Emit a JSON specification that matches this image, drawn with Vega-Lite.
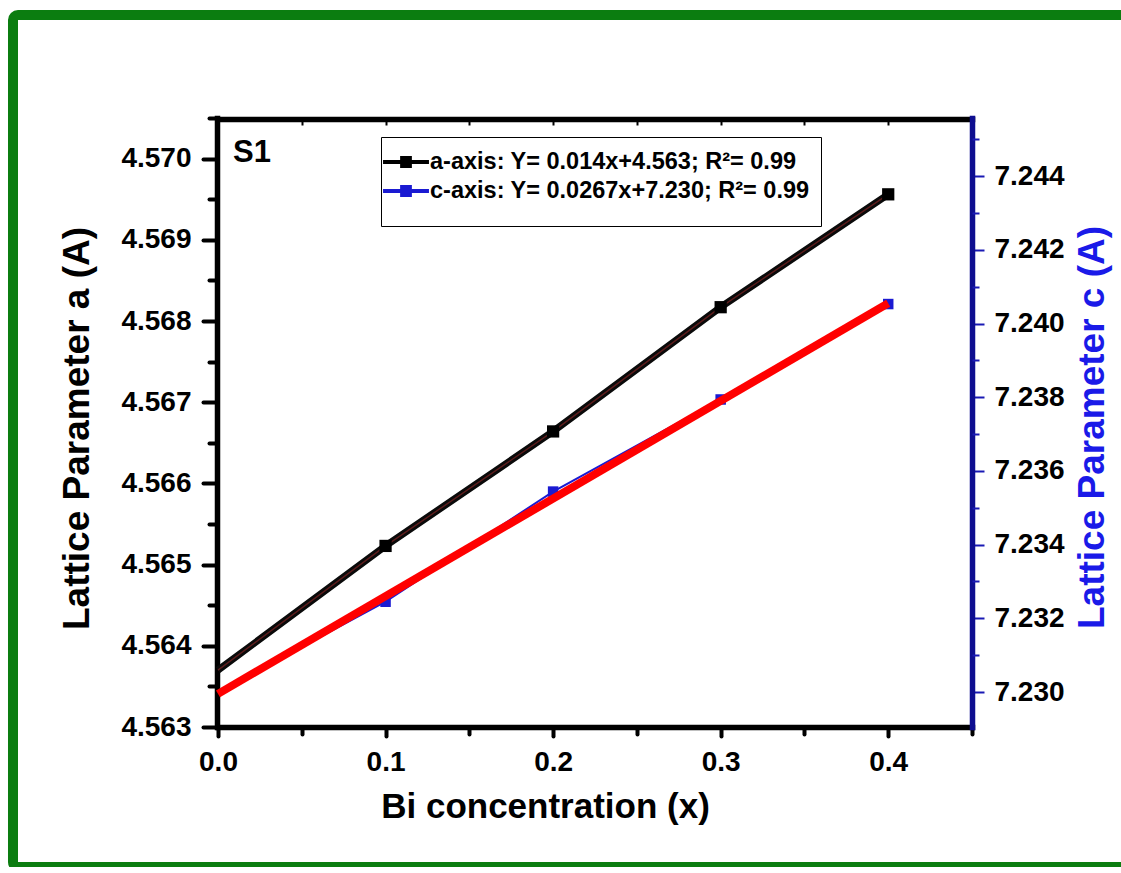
{
"$schema": "https://vega.github.io/schema/vega-lite/v6.json",
"width": 1115,
"height": 852,
"autosize": "none",
"padding": {"left": 13, "top": 15, "right": 0, "bottom": 0},
"background": "white",
"config": {
  "font": "Liberation Sans",
  "view": {"stroke": "#0b7d10", "strokeWidth": 10, "fill": "white", "cornerRadius": 5},
  "axis": {"grid": false, "labelOverlap": false, "labelFlush": false, "zindex": 1, "domainCap": "square", "labelFont": "Liberation Sans", "titleFont": "Liberation Sans", "labelFontWeight": "bold", "titleFontWeight": "bold", "labelColor": "black", "titleColor": "black", "labelFontSize": 28, "titleFontSize": 37, "domainWidth": 5.5, "domainColor": "black", "tickColor": "black"}
},
"datasets": {
  "a": [
    {"x": 0, "a": 4.56370, "series": "a"},
    {"x": 0.1, "a": 4.56523, "series": "a"},
    {"x": 0.2, "a": 4.56664, "series": "a"},
    {"x": 0.3, "a": 4.56817, "series": "a"},
    {"x": 0.4, "a": 4.56956, "series": "a"}
  ],
  "c": [
    {"x": 0, "c": 7.23000, "series": "c"},
    {"x": 0.1, "c": 7.23245, "series": "c"},
    {"x": 0.2, "c": 7.23544, "series": "c"},
    {"x": 0.3, "c": 7.23794, "series": "c"},
    {"x": 0.4, "c": 7.24053, "series": "c"}
  ],
  "cfit": [
    {"x": 0, "c": 7.22995},
    {"x": 0.4, "c": 7.24055}
  ],
  "s1": [
    {"x": 0.009, "a": 4.56996, "label": "S1"}
  ]
},
"layer": [
  {
    "encoding": {
      "x": {"field": "x", "type": "quantitative",
        "scale": {"domain": [0, 0.45], "range": [205, 959], "nice": false, "zero": false},
        "axis": {"orient": "bottom", "offset": -140, "values": [0, 0.1, 0.2, 0.3, 0.4], "format": ".1f",
          "title": "Bi concentration (x)", "titleFontSize": 35, "titleX": 532, "tickSize": 9, "tickWidth": 4, "tickCap": "round", "labelPadding": 12, "titlePadding": 13}},
      "y": {"field": "a", "type": "quantitative",
        "scale": {"domain": [4.563, 4.5705], "range": [712, 103], "nice": false, "zero": false},
        "axis": {"orient": "left", "offset": -204,
          "values": [4.563, 4.564, 4.565, 4.566, 4.567, 4.568, 4.569, 4.57], "format": ".3f",
          "title": "Lattice Parameter a (A)", "titleY": 413, "tickSize": 14, "tickWidth": 4, "tickCap": "round", "labelPadding": 12, "titlePadding": 24}}
    },
    "layer": [
      {"data": {"name": "a"}, "mark": {"type": "line", "color": "#0a0a0a", "strokeWidth": 7}, "encoding": {}},
      {"data": {"name": "a"}, "mark": {"type": "line", "color": "#5c1c1c", "strokeWidth": 1.4}, "encoding": {}},
      {"data": {"name": "a"}, "transform": [{"filter": "datum.x > 0"}],
        "mark": {"type": "point", "shape": "square", "filled": true, "size": 150, "opacity": 1},
        "encoding": {"color": {"field": "series", "type": "nominal",
          "scale": {"domain": ["a", "c"], "range": ["#000000", "#1a1ad2"]},
          "legend": {"orient": "none", "legendX": 368, "legendY": 122, "title": " ", "titleOrient": "bottom", "titleFontSize": 8, "titlePadding": 4,
            "symbolType": "M-1.64,-0.14H1.64V0.14H-1.64Z M-0.42,-0.42H0.42V0.42H-0.42Z",
            "symbolSize": 784, "symbolStrokeWidth": 0,
            "labelFontSize": 23.5, "labelFontWeight": "bold", "labelColor": "black", "labelFont": "Liberation Sans",
            "labelExpr": "datum.label == 'a' ? 'a-axis: Y= 0.014x+4.563; R²= 0.99' : 'c-axis: Y= 0.0267x+7.230; R²= 0.99'",
            "strokeColor": "black", "fillColor": "white", "padding": 11, "rowPadding": 3, "labelOffset": 10, "labelLimit": 600}}}},
      {"data": {"name": "s1"}, "mark": {"type": "text", "align": "left", "baseline": "alphabetic", "fontSize": 31, "fontWeight": "bold", "color": "black", "font": "Liberation Sans"},
        "encoding": {"text": {"field": "label"}}}
    ]
  },
  {
    "data": {"name": "a"},
    "mark": {"type": "point", "opacity": 0},
    "encoding": {
      "x": {"field": "x", "type": "quantitative",
        "scale": {"domain": [0, 0.45], "range": [205, 959], "nice": false, "zero": false},
        "axis": {"orient": "bottom", "offset": -140, "values": [0.05, 0.15, 0.25, 0.35, 0.45],
          "labels": false, "domain": false, "title": null, "tickSize": 7, "tickWidth": 4, "tickCap": "round"}},
      "y": {"field": "a", "type": "quantitative",
        "scale": {"domain": [4.563, 4.5705], "range": [712, 103], "nice": false, "zero": false},
        "axis": {"orient": "left", "offset": -204,
          "values": [4.5635, 4.5645, 4.5655, 4.5665, 4.5675, 4.5685, 4.5695, 4.5705],
          "labels": false, "domain": false, "title": null, "tickSize": 8, "tickWidth": 4, "tickCap": "round"}}
    }
  },
  {
    "encoding": {
      "x": {"field": "x", "type": "quantitative",
        "scale": {"domain": [0, 0.45], "range": [205, 959], "nice": false, "zero": false},
        "axis": {"orient": "top", "offset": -104, "values": [0, 0.05, 0.1, 0.15, 0.2, 0.25, 0.3, 0.35, 0.4, 0.45],
          "labels": false, "title": null, "tickSize": -6, "tickWidth": 2}},
      "y": {"field": "c", "type": "quantitative",
        "scale": {"domain": [7.22905, 7.24558], "range": [712, 103], "nice": false, "zero": false},
        "axis": {"orient": "right", "offset": -156,
          "values": [7.23, 7.232, 7.234, 7.236, 7.238, 7.24, 7.242, 7.244], "format": ".3f",
          "title": "Lattice Parameter c (A)", "titleColor": "#1a1ae8", "titleAngle": 270, "titleBaseline": "top", "titleY": 412,
          "domainColor": "#0e0e90", "tickColor": "#1a1ab4", "tickWidth": 2, "tickSize": 12, "labelPadding": 10, "titlePadding": 10}}
    },
    "layer": [
      {"data": {"name": "c"}, "mark": {"type": "line", "color": "#1a1ad2", "strokeWidth": 2}, "encoding": {}},
      {"data": {"name": "c"}, "transform": [{"filter": "datum.x > 0"}],
        "mark": {"type": "point", "shape": "square", "filled": true, "size": 110, "opacity": 1},
        "encoding": {"color": {"field": "series", "type": "nominal",
          "scale": {"domain": ["a", "c"], "range": ["#000000", "#1a1ad2"]}}}},
      {"data": {"name": "cfit"}, "mark": {"type": "line", "color": "#ff0000", "strokeWidth": 8}, "encoding": {}}
    ]
  },
  {
    "data": {"name": "c"},
    "mark": {"type": "point", "opacity": 0},
    "encoding": {
      "x": {"field": "x", "type": "quantitative",
        "scale": {"domain": [0, 0.45], "range": [205, 959], "nice": false, "zero": false},
        "axis": null},
      "y": {"field": "c", "type": "quantitative",
        "scale": {"domain": [7.22905, 7.24558], "range": [712, 103], "nice": false, "zero": false},
        "axis": {"orient": "right", "offset": -156,
          "values": [7.231, 7.233, 7.235, 7.237, 7.239, 7.241, 7.243, 7.245],
          "labels": false, "domain": false, "title": null, "tickColor": "#1a1ab4", "tickWidth": 2, "tickSize": 7}}
    }
  }
],
"resolve": {"scale": {"y": "independent"}, "axis": {"x": "independent", "y": "independent"}}
}
